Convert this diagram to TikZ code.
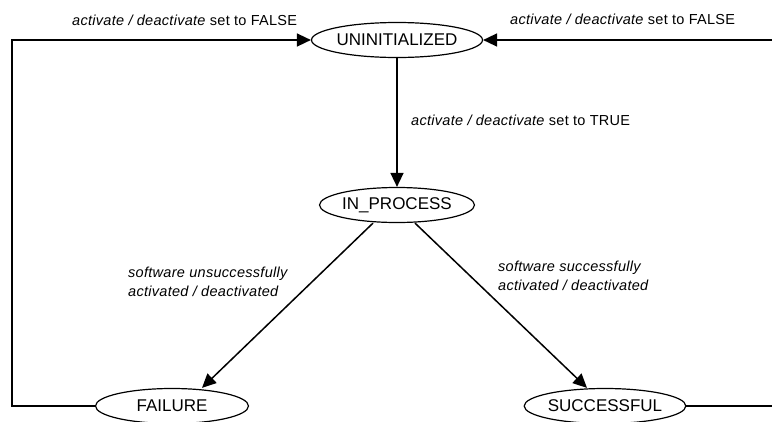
\documentclass[tikz,border=0pt]{standalone}
\usepackage{fontspec}
\setmainfont{Liberation Sans}
\newfontfamily\labfont[LetterSpace=2]{Liberation Sans}
\usetikzlibrary{shapes.geometric,arrows.meta}
\begin{document}
\begin{tikzpicture}[x=1pt,y=-1pt,
  state/.style={draw,ellipse,line width=1.2pt,inner sep=0pt,minimum height=35pt,font=\fontsize{17}{20}\selectfont},
  conn/.style={line width=1.5pt,-{Triangle[length=14pt,width=13pt]}},
  lab/.style={font=\labfont\fontsize{14.5}{19}\selectfont,inner sep=0pt,align=left}]
\clip (0,0) rectangle (772,421);
\node[state,minimum width=157pt] (U) at (397,40) {UNINITIALIZED};
\node[state,minimum width=155pt] (P) at (397,205) {IN\_PROCESS};
\node[state,minimum width=153pt] (F) at (172,406) {FAILURE};
\node[state,minimum width=145pt] (S) at (605,406) {SUCCESSFUL};
\coordinate (L) at (12,0);
\coordinate (R) at (790,0);
\path (P.south) ++(-24,0) coordinate (p1);
\path (P.south) ++(18,0) coordinate (p2);
\path (F.north) ++(30,0) coordinate (f1);
\path (S.north) ++(-18,0) coordinate (s1);
\draw[conn] (U.south) -- (P.north);
\draw[conn] (p1) -- (f1);
\draw[conn] (p2) -- (s1);
\draw[conn] (F.west) -- (F.west -| L) -- (U.west -| L) -- (U.west);
\draw[conn] (S.east) -- (S.east -| R) -- (U.east -| R) -- (U.east);
\node[lab,anchor=base west] (t1) at (72,25) {\itshape activate / deactivate\upshape{} set to FALSE};
\node[lab,anchor=base west] (t2) at (510,24) {\itshape activate / deactivate\upshape{} set to FALSE};
\node[lab,anchor=base west] (t3) at (411,125) {\itshape activate / deactivate\upshape{} set to TRUE};
\node[lab,anchor=west] (t4) at (128,282) {\itshape software unsuccessfully\\\itshape activated / deactivated};
\node[lab,anchor=west] (t5) at (498,276) {\itshape software successfully\\\itshape activated / deactivated};
\end{tikzpicture}
\end{document}
